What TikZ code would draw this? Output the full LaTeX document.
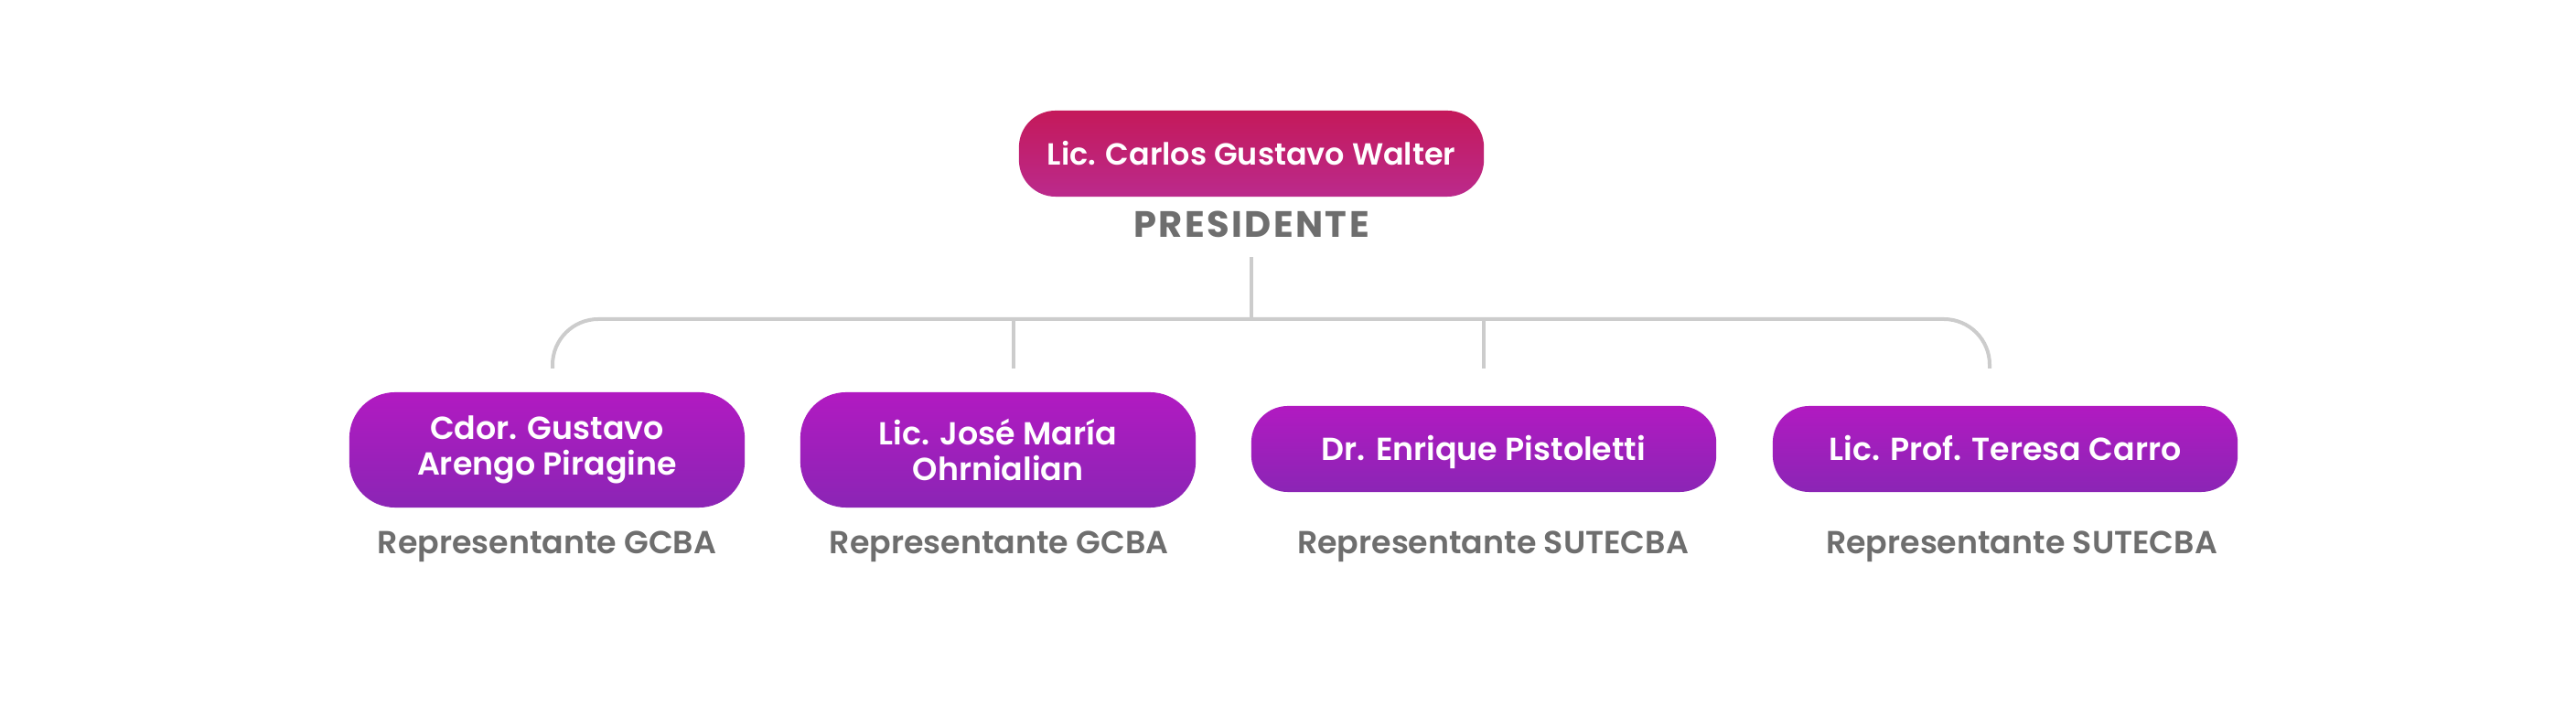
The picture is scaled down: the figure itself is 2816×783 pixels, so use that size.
\documentclass[tikz,border=0pt]{standalone}
\usepackage{fontspec}
\setmainfont{Poppins}[BoldFont={Poppins SemiBold}]
\newfontfamily\titlefont{Poppins Bold}[LetterSpace=6]
\usetikzlibrary{positioning}
\definecolor{presitop}{HTML}{C4195A}
\definecolor{presibot}{HTML}{BB2A8C}
\definecolor{vocaltop}{HTML}{B11AC1}
\definecolor{vocalbot}{HTML}{8B25B5}
\definecolor{textgray}{HTML}{6E6E6E}
\definecolor{linkgray}{HTML}{CCCCCC}

\begin{document}
\begin{tikzpicture}[x=0.01cm, y=-0.01cm,
        namebox/.style={rectangle, top color=vocaltop, bottom color=vocalbot, text=white,
                        align=center, inner sep=0pt,
                        font=\fontsize{9.9}{11.1}\selectfont\bfseries},
        widebox/.style={namebox, minimum width=5.08cm, minimum height=0.94cm, rounded corners=0.4cm,
                        text height=0.7em, text depth=0pt},
        tallbox/.style={namebox, minimum width=4.32cm, minimum height=1.26cm, rounded corners=0.5cm},
        role/.style={text=textgray, inner sep=0pt, font=\fontsize{9.9}{11}\selectfont\bfseries},
        link/.style={draw=linkgray, line width=0.04cm}
      ]
        \fill[white] (0,0) rectangle (2816,783);
        \useasboundingbox (0,0) rectangle (2816,783);

        % presidencia
        \node[widebox, top color=presitop, bottom color=presibot,
              font=\fontsize{9.5}{12}\selectfont\bfseries] (pres) at (1368,168) {Lic. Carlos Gustavo Walter};
        \node[role, text height=0.7em, text depth=0pt,
              font=\fontsize{11.4}{13}\titlefont] (prestitle) at (1368,247) {PRESIDENTE};

        % vocales
        \node[tallbox] (gcba1) at (598,492) {Cdor. Gustavo\\Arengo Piragine};
        \node[tallbox] (gcba2) at (1091,492) {Lic. José María\\Ohrnialian};
        \node[widebox] (sute1) at (1622,491) {Dr. Enrique Pistoletti};
        \node[widebox] (sute2) at (2192,491) {Lic. Prof. Teresa Carro};

        \node[role] (rgcba1) at (598,598) {Representante GCBA};
        \node[role] (rgcba2) at (1092,598) {Representante GCBA};
        \node[role] (rsute1) at (1632,598) {Representante SUTECBA};
        \node[role] (rsute2) at (2210,598) {Representante SUTECBA};

        % conectores
        \coordinate (hub) at (1368,349);
        \coordinate (drop1) at (604,403);
        \coordinate (drop2) at (1108,403);
        \coordinate (drop3) at (1622,403);
        \coordinate (drop4) at (2175,403);

        \draw[link] ([yshift=-0.21cm]prestitle.south) -- (hub);
        \draw[link, rounded corners=0.5cm] (drop1) -- (drop1 |- hub) -- (drop4 |- hub) -- (drop4);
        \draw[link] (drop2 |- hub) -- (drop2);
        \draw[link] (drop3 |- hub) -- (drop3);
      \end{tikzpicture}
\end{document}
